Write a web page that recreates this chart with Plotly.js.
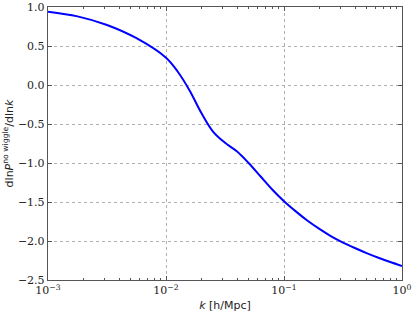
<!DOCTYPE html>
<html><head><meta charset="utf-8">
<script src="https://cdn.plot.ly/plotly-3.0.1.min.js"></script>
<style>html,body{margin:0;padding:0;background:#fff}#chart{width:413px;height:315px}</style>
</head><body><div id="chart"></div>
<script>
const kValues = [0.001, 0.001778, 0.003162, 0.005623, 0.01, 0.012589, 0.015849, 0.019953, 0.025119, 0.031623, 0.039811, 0.050119, 0.063096, 0.079433, 0.1, 0.125893, 0.158489, 0.199526, 0.251189, 0.316228, 0.398107, 0.501187, 0.630957, 0.794328, 1.0];
const slopeValues = [0.94, 0.88, 0.77, 0.60, 0.35, 0.17, -0.07, -0.36, -0.60, -0.74, -0.85, -1.00, -1.17, -1.34, -1.49, -1.62, -1.74, -1.845, -1.94, -2.02, -2.09, -2.155, -2.215, -2.27, -2.32];
const xTickVals = [0.001, 0.01, 0.1, 1];
const xTickText = ['10<sup>\u22123</sup>', '10<sup>\u22122</sup>', '10<sup>\u22121</sup>', '10<sup>0</sup>'];
const yTickVals = [1.0, 0.5, 0.0, -0.5, -1.0, -1.5, -2.0, -2.5];
const yTickText = ['1.0', '0.5', '0.0', '\u22120.5', '\u22121.0', '\u22121.5', '\u22122.0', '\u22122.5'];

const serif = 'DejaVu Serif, Liberation Serif, serif';
const trace = {x: kValues, y: slopeValues, type: 'scatter', mode: 'lines', line: {color: '#0000ff', width: 2, shape: 'spline', smoothing: 1}, hoverinfo: 'skip'};
const layout = {
  width: 413, height: 315,
  margin: {l: 48, r: 11, t: 7, b: 35},
  paper_bgcolor: '#fff', plot_bgcolor: '#fff',
  showlegend: false,
  xaxis: {
    type: 'log', range: [-3, 0],
    tickvals: xTickVals, ticktext: xTickText,
    ticks: 'inside', ticklen: 4, tickcolor: '#555', mirror: 'allticks',
    showline: true, linecolor: '#555', linewidth: 1.2,
    showgrid: true, gridcolor: '#b0b0b0', griddash: 'dot', gridwidth: 1,
    zeroline: false,
    tickfont: {family: serif, size: 11, color: '#222'},
    minor: {dtick: 'D1', ticks: 'inside', ticklen: 2, tickcolor: '#555', showgrid: false},
    title: {text: '<i>k</i> [h/Mpc]', font: {family: 'DejaVu Sans, sans-serif', size: 11, color: '#222'}, standoff: 4}
  },
  yaxis: {
    range: [-2.5, 1.0],
    tickvals: yTickVals, ticktext: yTickText,
    ticks: 'inside', ticklen: 4, tickcolor: '#555', mirror: 'allticks',
    showline: true, linecolor: '#555', linewidth: 1.2,
    showgrid: true, gridcolor: '#b0b0b0', griddash: 'dot', gridwidth: 1,
    zeroline: false,
    tickfont: {family: serif, size: 11, color: '#222'},
    title: {text: 'dln<i>P</i><sup>no wiggle</sup>/dln<i>k</i>', font: {family: 'DejaVu Sans, sans-serif', size: 11, color: '#222'}, standoff: 2}
  }
};
Plotly.newPlot('chart', [trace], layout, {staticPlot: true, displayModeBar: false});
</script></body></html>
